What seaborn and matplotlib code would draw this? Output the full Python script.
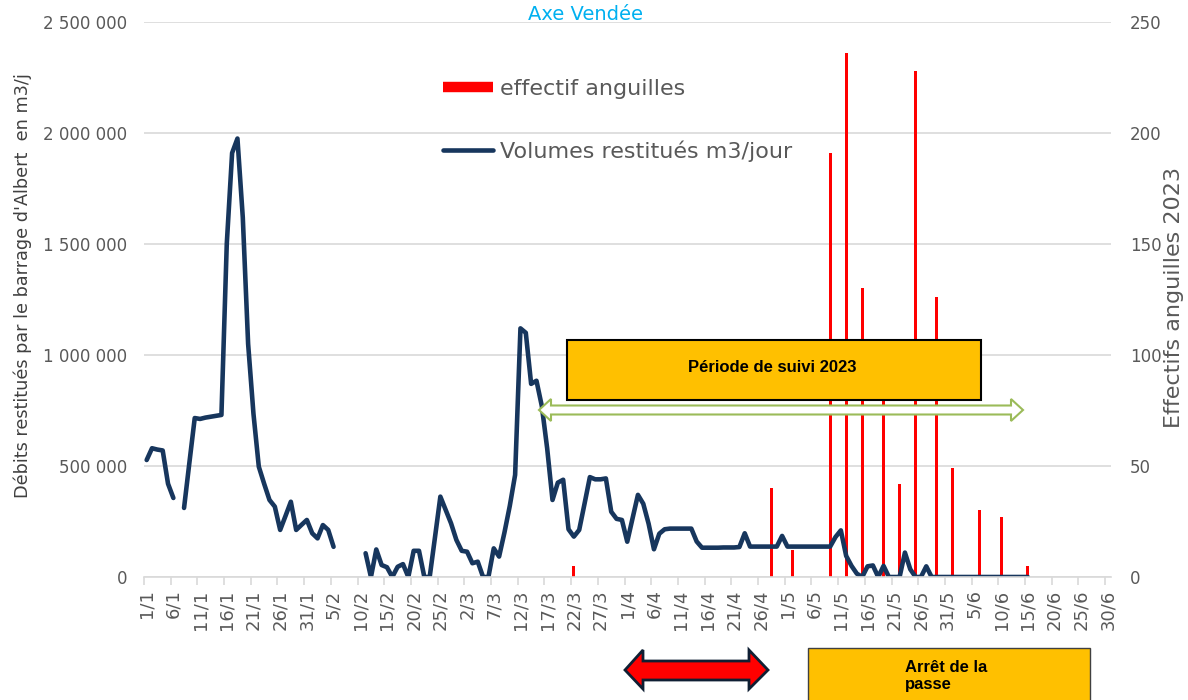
import numpy as np
import pandas as pd
import seaborn as sns
import matplotlib.pyplot as plt
from matplotlib.lines import Line2D
from matplotlib.patches import Rectangle, Polygon
from matplotlib.ticker import FuncFormatter

W, H = 1188, 700

# days 1/1 -> 30/6 (category axis)
jours = [f"{d.day}/{d.month}" for d in pd.date_range("2023-01-01", "2023-06-30")]

# volumes restitués m3/jour (None = pas de donnée)
vol_janv = [527000, 580000, 574000, 570000, 420000, 356000, None, 311000, 515000, 716000,
            712000, 718000, 722000, 726000, 730000, 1500000, 1910000, 1975000, 1620000, 1050000,
            735000, 497000, 420000, 347000, 317000, 212000, 275000, 339000, 212000, 235000,
            257000]
vol_fev = [197000, 174000, 234000, 212000, 136000, None, None, None, None, None,
           107000, 0, 124000, 54000, 44000, 0, 46000, 58000, 0, 118000,
           118000, 0, 0, 180000, 362000, 302000, 242000, 167000]
vol_mars = [118000, 114000, 62000, 69000, 0, 0, 129000, 92000, 200000, 320000,
            460000, 1120000, 1100000, 870000, 884000, 770000, 580000, 347000, 425000, 438000,
            215000, 182000, 212000, 330000, 450000, 440000, 440000, 444000, 294000, 262000,
            257000]
vol_avril = [159000, 265000, 370000, 330000, 240000, 125000, 195000, 215000, 218000, 218000,
             218000, 218000, 218000, 160000, 132000, 132000, 132000, 132000, 133000, 133000,
             133000, 135000, 197000, 137000, 137000, 137000, 137000, 137000, 137000, 185000]
vol_mai = [137000, 137000, 137000, 137000, 137000, 137000, 137000, 137000, 137000, 180000,
           210000, 95000, 50000, 15000, 0, 48000, 52000, 0, 50000, 0,
           0, 0, 110000, 35000, 0, 0, 48000, 0, 0, 0,
           0]
vol_juin = [0] * 15 + [None] * 15

# effectifs anguilles 2023
eel_dates = ["22/3", "28/4", "2/5", "9/5", "12/5", "15/5", "19/5", "22/5",
             "25/5", "29/5", "1/6", "6/6", "10/6", "15/6"]
eel_counts = [5, 40, 12, 191, 236, 130, 100, 42, 228, 126, 49, 30, 27, 5]

navy = "#17365D"
grey = "#595959"
grid = "#D9D9D9"

volumes = vol_janv + vol_fev + vol_mars + vol_avril + vol_mai + vol_juin
df_vol = pd.DataFrame({"jour": np.arange(len(jours)), "volume": pd.array(volumes, dtype="Float64")})
df_vol["volume"] = df_vol["volume"].astype(float)
df_vol["segment"] = df_vol["volume"].isna().cumsum()
df_vol = df_vol.dropna()

idx = {j: i for i, j in enumerate(jours)}
df_eel = pd.DataFrame({"jour": [idx[d] for d in eel_dates], "effectif": eel_counts})
bar_w = 0.56 / np.diff(np.sort(df_eel["jour"].unique())).min()

fig, ax = plt.subplots(figsize=(W / 100, H / 100), dpi=100)
fig.subplots_adjust(left=144 / W, right=1110.5 / W, bottom=1 - 577 / H, top=1 - 22 / H)
ax2 = ax.twinx()

sns.barplot(data=df_eel, x="jour", y="effectif", native_scale=True, width=bar_w,
            color="#FF0000", saturation=1, errorbar=None, ax=ax2, zorder=2)
sns.lineplot(data=df_vol, x="jour", y="volume", units="segment", estimator=None,
             color=navy, lw=3.3, ax=ax, solid_joinstyle="round", solid_capstyle="round")

ax.set_zorder(ax2.get_zorder() + 1)
ax.patch.set_visible(False)

ax.set_xlim(-0.5, len(jours) - 0.5)
ax.set_ylim(0, 2500000)
ax2.set_ylim(0, 250)
ax.set_yticks(np.arange(0, 2500001, 500000))
ax2.set_yticks(np.arange(0, 251, 50))
ax.yaxis.set_major_formatter(FuncFormatter(lambda v, p: f"{v:,.0f}".replace(",", " ")))

ax2.grid(axis="y", color=grid, lw=1.2)
ax2.set_axisbelow(True)
ax.grid(False)

for a in (ax, ax2):
    for s in ("top", "left", "right"):
        a.spines[s].set_visible(False)
ax2.spines["bottom"].set_visible(False)
ax.spines["bottom"].set_color(grid)
ax.spines["bottom"].set_linewidth(1.2)

ax.set_xticks(np.arange(0, len(jours), 5))
ax.set_xticklabels(jours[::5], rotation=90)
ax.set_xticks(np.arange(-0.5, len(jours), 5), minor=True)
ax.tick_params(axis="x", which="major", length=0, pad=9, labelsize=13, labelcolor=grey)
ax.tick_params(axis="x", which="minor", length=6, color=grid, width=1.2)
ax.tick_params(axis="y", length=0, pad=12, labelsize=12, labelcolor=grey)
ax2.tick_params(axis="y", length=0, pad=14, labelsize=12, labelcolor=grey)

ax.set_xlabel("")
ax.set_ylabel("Débits restitués par le barrage d'Albert  en m3/j", fontsize=12.7, color="#404040")
ax.yaxis.set_label_coords((32 - 144) / 966.5, (577 - 286) / 555)
ax2.set_ylabel("Effectifs anguilles 2023", fontsize=16, color=grey)
ax2.yaxis.set_label_coords((1164 - 144) / 966.5, (577 - 298) / 555)

fig.text(585 / W, 1 - 14 / H, "Axe Vendée", ha="center", va="center", color="#00B0F0", fontsize=14)

handles = [Line2D([], [], color="#FF0000", lw=7.5, solid_capstyle="butt"),
           Line2D([], [], color=navy, lw=3.3, solid_capstyle="round")]
fig.legend(handles, ["effectif anguilles", "Volumes restitués m3/jour"], loc="upper left",
           bbox_to_anchor=(443 / W, 1 - 79 / H), bbox_transform=fig.transFigure, frameon=False,
           fontsize=16, labelcolor=grey, handlelength=2.25, handletextpad=0.32,
           labelspacing=1.85, borderpad=0, borderaxespad=0)


def px(x, y):
    return (x / W, 1 - y / H)


# période de suivi
fig.add_artist(Rectangle(px(567, 400), 414 / W, 60 / H, transform=fig.transFigure,
                         facecolor="#FFC000", edgecolor="black", lw=1.5, zorder=5))
fig.text(772 / W, 1 - 368 / H, "Période de suivi 2023", ha="center", va="center",
         fontsize=12, fontweight="bold", family="Liberation Sans", zorder=6)

green_pts = [(539, 410), (551, 399), (551, 405.5), (1011, 405.5), (1011, 399), (1023, 410),
             (1011, 421), (1011, 414.5), (551, 414.5), (551, 421)]
fig.add_artist(Polygon([px(x, y) for x, y in green_pts], closed=True, transform=fig.transFigure,
                       facecolor="white", edgecolor="#9BBB59", lw=1.5, zorder=5))

red_pts = [(625, 670), (643, 650), (643, 661), (749, 661), (749, 650), (768, 670),
           (749, 689), (749, 680), (643, 680), (643, 689)]
fig.add_artist(Polygon([px(x, y) for x, y in red_pts], closed=True, transform=fig.transFigure,
                       facecolor="#FF0000", edgecolor="#0F1F33", lw=2, zorder=5))

fig.add_artist(Rectangle(px(808, 710), 282 / W, 62 / H, transform=fig.transFigure,
                         facecolor="#FFC000", edgecolor="#404040", lw=1, zorder=5))
fig.text(905 / W, 1 - 676 / H, "Arrêt de la\npasse", ha="left", va="center",
         fontsize=12, fontweight="bold", family="Liberation Sans", zorder=6, linespacing=1.25)

fig.savefig("out.png", dpi=100)
